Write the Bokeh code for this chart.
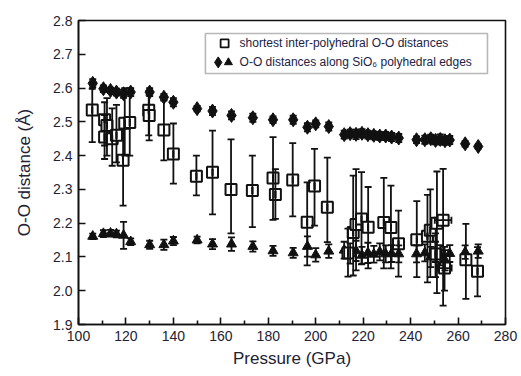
from bokeh.plotting import figure
from bokeh.models import (ColumnDataSource, Whisker, TeeHead, FixedTicker,
                          PrintfTickFormatter, Range1d, BoxAnnotation, Label)
from bokeh.embed import file_html
from bokeh.resources import INLINE

# ---------------- data ----------------
# O-O distances along polyhedral edges (diamonds: long edge, triangles: short edge)
edge_p = [106, 110.5, 113.5, 116, 119, 122, 130, 136, 140, 150, 156.5, 164.5,
          173.5, 182, 190.5, 196.5, 200, 205.5, 212, 214.5, 217, 219.5, 222,
          224.5, 227, 229.5, 232, 235, 242.5, 246, 248.5, 250.5, 252.5, 254.5,
          256.5, 263, 268.5]
edge_p_err = [0, 0, 0, 0, 0, 0, 0, 0, 0, 0, 0, 0,
              0, 0, 0, 0, 0, 0, 2, 0, 3, 0, 0,
              0, 0, 0, 0, 0, 0, 0, 0, 2, 3, 0,
              0, 0, 0]
diamond_d = [2.614, 2.598, 2.593, 2.588, 2.583, 2.588, 2.588, 2.573, 2.558,
             2.539, 2.532, 2.519, 2.512, 2.506, 2.506, 2.484, 2.494, 2.486,
             2.462, 2.465, 2.463, 2.466, 2.462, 2.460, 2.458, 2.458, 2.455,
             2.452, 2.447, 2.447, 2.450, 2.445, 2.448, 2.444, 2.446, 2.435,
             2.427]
diamond_err = [0.012, 0.010, 0.008, 0.010, 0.012, 0.012, 0.012, 0.010, 0.012,
               0.008, 0.012, 0.012, 0.012, 0.010, 0.012, 0.012, 0.010, 0.012,
               0.012, 0.012, 0.014, 0.012, 0.012, 0.012, 0.012, 0.012, 0.012,
               0.012, 0.010, 0.012, 0.012, 0.012, 0.015, 0.012, 0.012, 0.008,
               0.006]
triangle_d = [2.161, 2.169, 2.170, 2.168, 2.164, 2.145, 2.136, 2.136, 2.147,
              2.150, 2.138, 2.138, 2.131, 2.118, 2.112, 2.131, 2.106, 2.117,
              2.120, 2.110, 2.118, 2.105, 2.112, 2.108, 2.115, 2.109, 2.110,
              2.109, 2.109, 2.112, 2.100, 2.115, 2.105, 2.090, 2.110, 2.114,
              2.117]
triangle_err = [0.008, 0.010, 0.010, 0.010, 0.040, 0.010, 0.012, 0.015, 0.012,
                0.010, 0.015, 0.020, 0.015, 0.015, 0.015, 0.030, 0.020, 0.020,
                0.025, 0.030, 0.030, 0.025, 0.030, 0.025, 0.025, 0.025, 0.025,
                0.025, 0.025, 0.025, 0.030, 0.030, 0.030, 0.030, 0.025, 0.020,
                0.020]

# shortest inter-polyhedral O-O distances (open squares)
inter_p = [105.8, 111, 112, 111, 114.2, 116, 118.8, 119.5, 121.6, 129.6, 129.8,
           136, 140, 149.7, 156.5, 164.3, 173.3, 182, 183, 190.3, 196.4, 199.5,
           204.9, 213.6, 215.8, 217, 219.3, 222.1, 228.7, 231.7, 234.9, 242.6,
           247.1, 248.3, 250.5, 251.1, 253.7, 254.3, 263.3, 268.2]
inter_p_err = [0, 0, 0, 0, 0, 0, 0, 0, 0, 0, 0,
               0, 0, 0, 0, 0, 0, 0, 0, 0, 0, 0,
               0, 0, 0, 0, 0, 0, 0, 0, 0, 0,
               0, 0, 0, 0, 3.5, 3, 0, 0]
inter_d = [2.535, 2.506, 2.489, 2.455, 2.450, 2.460, 2.386, 2.496, 2.498,
           2.534, 2.519, 2.476, 2.405, 2.339, 2.351, 2.300, 2.297, 2.334,
           2.285, 2.328, 2.203, 2.310, 2.247, 2.112, 2.172, 2.196, 2.212,
           2.188, 2.202, 2.187, 2.139, 2.151, 2.161, 2.179, 2.109, 2.200,
           2.209, 2.067, 2.092, 2.058]
inter_lo = [2.440, 2.430, 2.400, 2.390, 2.370, 2.380, 2.252, 2.400, 2.400,
            2.460, 2.445, 2.386, 2.317, 2.282, 2.226, 2.170, 2.188, 2.210,
            2.213, 2.220, 2.075, 2.193, 2.144, 2.042, 2.045, 2.060, 2.078,
            2.066, 2.066, 2.066, 2.042, 2.040, 2.025, 2.040, 2.040, 1.993,
            1.956, 2.000, 1.976, 1.983]
inter_hi = [2.598, 2.558, 2.570, 2.520, 2.540, 2.550, 2.480, 2.600, 2.600,
            2.590, 2.580, 2.565, 2.495, 2.400, 2.474, 2.448, 2.400, 2.455,
            2.360, 2.437, 2.321, 2.420, 2.394, 2.184, 2.341, 2.360, 2.351,
            2.307, 2.334, 2.311, 2.237, 2.265, 2.284, 2.300, 2.170, 2.353,
            2.361, 2.130, 2.198, 2.129]

x_ticks = [100, 120, 140, 160, 180, 200, 220, 240, 260, 280]
x_minor = [110, 130, 150, 170, 190, 210, 230, 250, 270]
y_ticks = [1.9, 2.0, 2.1, 2.2, 2.3, 2.4, 2.5, 2.6, 2.7, 2.8]

legend_square_text = "shortest inter-polyhedral O-O distances"
legend_edge_text = "O-O distances along SiO\u2086 polyhedral edges"

# ---------------- figure ----------------
FONT = "Liberation Sans"
p = figure(width=521, height=376, frame_width=427, frame_height=304,
           x_range=Range1d(100, 280), y_range=Range1d(1.9, 2.8),
           output_backend="svg", toolbar_location=None,
           min_border_left=78, min_border_right=16, min_border_top=20,
           min_border_bottom=52)
p.background_fill_color = "white"
p.border_fill_color = "white"
p.grid.visible = False
p.outline_line_color = "#111111"
p.outline_line_width = 1.6

for ax in (p.xaxis[0], p.yaxis[0]):
    ax.axis_line_color = "#111111"
    ax.axis_line_width = 1.6
    ax.major_tick_in = 7
    ax.major_tick_out = 0
    ax.minor_tick_in = 4
    ax.minor_tick_out = 0
    ax.major_tick_line_width = 1.6
    ax.minor_tick_line_width = 1.6
    ax.major_tick_line_color = "#111111"
    ax.minor_tick_line_color = "#111111"
    ax.major_label_text_font = FONT
    ax.major_label_text_font_size = "14px"
    ax.major_label_text_color = "#222233"
    ax.axis_label_text_font = FONT
    ax.axis_label_text_font_size = "17px"
    ax.axis_label_text_font_style = "normal"
    ax.axis_label_text_color = "#222233"

p.xaxis.ticker = FixedTicker(ticks=x_ticks, minor_ticks=x_minor)
p.yaxis.ticker = FixedTicker(ticks=y_ticks)
p.yaxis.formatter = PrintfTickFormatter(format="%.1f")
p.yaxis.minor_tick_line_color = None
p.xaxis.major_label_standoff = 6
p.yaxis.major_label_standoff = 6
p.xaxis.axis_label = "Pressure (GPa)"
p.yaxis.axis_label = "O-O distance (\u00c5)"
p.xaxis.axis_label_standoff = 5
p.yaxis.axis_label_standoff = 16

# ---------------- sources ----------------
edge = ColumnDataSource(dict(
    p=edge_p,
    p_lo=[a - b for a, b in zip(edge_p, edge_p_err)],
    p_hi=[a + b for a, b in zip(edge_p, edge_p_err)],
    dia=diamond_d,
    dia_lo=[a - b for a, b in zip(diamond_d, diamond_err)],
    dia_hi=[a + b for a, b in zip(diamond_d, diamond_err)],
    tri=triangle_d,
    tri_lo=[a - b for a, b in zip(triangle_d, triangle_err)],
    tri_hi=[a + b for a, b in zip(triangle_d, triangle_err)],
))
inter = ColumnDataSource(dict(
    p=inter_p,
    p_lo=[a - b for a, b in zip(inter_p, inter_p_err)],
    p_hi=[a + b for a, b in zip(inter_p, inter_p_err)],
    d=inter_d, lo=inter_lo, hi=inter_hi,
))

LW = 1.8
CAP = 7


def whisk(src, base, lo, hi, dim):
    w = Whisker(source=src, base=base, lower=lo, upper=hi, dimension=dim,
                line_color="#111111", line_width=LW,
                upper_head=TeeHead(size=CAP, line_width=LW, line_color="#111111"),
                lower_head=TeeHead(size=CAP, line_width=LW, line_color="#111111"))
    w.level = "glyph"
    p.add_layout(w)


# legend frame sits below every glyph
leg = BoxAnnotation(left=153.5, right=272.4, bottom=2.643, top=2.7615,
                    fill_color="white", fill_alpha=1.0,
                    line_color="#111111", line_width=1.6, level="underlay")
p.add_layout(leg)

# edge error bars and markers
whisk(edge, "p", "dia_lo", "dia_hi", "height")
whisk(edge, "p", "tri_lo", "tri_hi", "height")
p.scatter("p", "dia", source=edge, marker="diamond", size=14,
          fill_color="#111111", line_color="#111111")
p.scatter("p", "tri", source=edge, marker="triangle", size=10,
          fill_color="#111111", line_color="#111111")

# inter-polyhedral error bars and markers
whisk(inter, "p", "lo", "hi", "height")
whisk(inter, "d", "p_lo", "p_hi", "width")
p.scatter("p", "d", source=inter, marker="square", size=11,
          fill_color="white", line_color="#111111", line_width=2)

# ---------------- legend (drawn manually) ----------------
p.scatter([161.6], [2.732], marker="square", size=8, fill_color="white",
          line_color="#111111", line_width=1.8)
p.scatter([158.9], [2.676], marker="diamond", size=11, fill_color="#111111",
          line_color="#111111")
p.scatter([163.2], [2.676], marker="triangle", size=8, fill_color="#111111",
          line_color="#111111")
p.add_layout(Label(x=167.9, y=2.732, text=legend_square_text,
                   text_font=FONT, text_font_size="12px",
                   text_color="#222244", text_baseline="middle"))
p.add_layout(Label(x=167.9, y=2.676, text=legend_edge_text,
                   text_font=FONT, text_font_size="12px",
                   text_color="#222244", text_baseline="middle"))

open("out.html", "w").write(file_html(p, INLINE))
